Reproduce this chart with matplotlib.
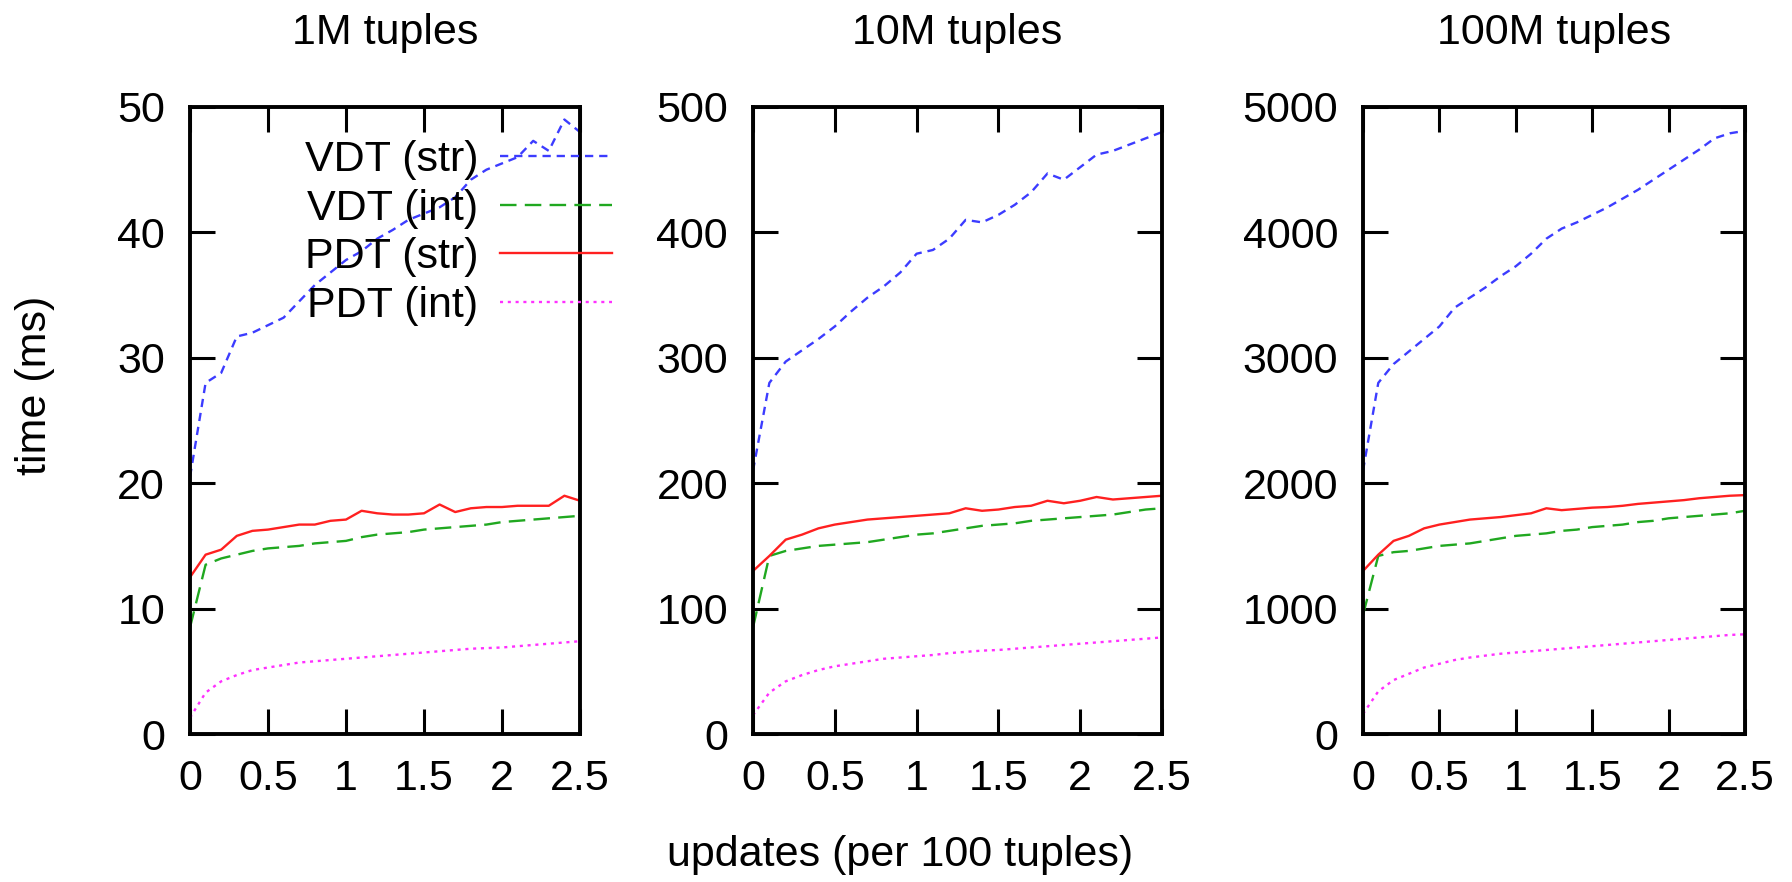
import numpy as np
import matplotlib
matplotlib.use("Agg")
import matplotlib.pyplot as plt

plt.rcParams['font.family'] = ['Liberation Sans', 'DejaVu Sans']

# x positions: updates per 100 tuples
updates = [round(0.1 * i, 1) for i in range(26)]

titles = ["1M tuples", "10M tuples", "100M tuples"]
ymax = [50, 500, 5000]
labels = ["VDT (str)", "VDT (int)", "PDT (str)", "PDT (int)"]

# 1M tuples
vdt_str_1m = [20.5, 28.0, 28.8, 31.7, 32.0, 32.6, 33.2, 34.5, 35.8, 36.8, 37.8, 38.5, 39.5,
              40.2, 41.0, 41.5, 42.0, 42.8, 44.2, 45.0, 45.5, 46.0, 47.3, 46.5, 49.0, 48.0]
vdt_int_1m = [8.5, 13.5, 14.0, 14.3, 14.6, 14.8, 14.9, 15.0, 15.2, 15.3, 15.4, 15.7, 15.9,
              16.0, 16.1, 16.3, 16.4, 16.5, 16.6, 16.7, 16.9, 17.0, 17.1, 17.2, 17.3, 17.4]
pdt_str_1m = [12.5, 14.3, 14.7, 15.8, 16.2, 16.3, 16.5, 16.7, 16.7, 17.0, 17.1, 17.8, 17.6,
              17.5, 17.5, 17.6, 18.3, 17.7, 18.0, 18.1, 18.1, 18.2, 18.2, 18.2, 19.0, 18.6]
pdt_int_1m = [1.3, 3.3, 4.2, 4.7, 5.1, 5.3, 5.5, 5.7, 5.8, 5.9, 6.0, 6.1, 6.2,
              6.3, 6.4, 6.5, 6.6, 6.7, 6.8, 6.85, 6.9, 7.0, 7.1, 7.2, 7.3, 7.4]

# 10M tuples
vdt_str_10m = [210, 280, 297, 306, 315, 325, 337, 348, 357, 368, 383, 386, 395,
               410, 408, 414, 422, 432, 447, 442, 452, 462, 465, 470, 475, 480]
vdt_int_10m = [85, 142, 146, 148, 150, 151, 152, 153, 155, 157, 159, 160, 162,
               164, 166, 167, 168, 170, 171, 172, 173, 174, 175, 177, 179, 180]
pdt_str_10m = [130, 142, 155, 159, 164, 167, 169, 171, 172, 173, 174, 175, 176,
               180, 178, 179, 181, 182, 186, 184, 186, 189, 187, 188, 189, 190]
pdt_int_10m = [15, 33, 42, 47, 51, 54, 56, 58, 60, 61, 62, 63, 64.5,
               65.5, 66.5, 67, 68, 69, 70, 71, 72, 73, 74, 75, 76, 77]

# 100M tuples
vdt_str_100m = [2100, 2800, 2950, 3050, 3150, 3250, 3400, 3480, 3560, 3650, 3730, 3830, 3950,
                4030, 4080, 4140, 4200, 4270, 4340, 4420, 4500, 4580, 4660, 4750, 4790, 4810]
vdt_int_100m = [950, 1420, 1450, 1460, 1480, 1500, 1510, 1520, 1540, 1560, 1580, 1590, 1600,
                1620, 1630, 1650, 1660, 1670, 1690, 1700, 1720, 1730, 1740, 1750, 1760, 1780]
pdt_str_100m = [1300, 1430, 1540, 1580, 1640, 1670, 1690, 1710, 1720, 1730, 1745, 1760, 1800,
                1785, 1795, 1805, 1810, 1820, 1835, 1845, 1855, 1865, 1880, 1890, 1900, 1905]
pdt_int_100m = [160, 340, 430, 480, 530, 560, 590, 610, 625, 640, 650, 660, 670,
                680, 690, 700, 710, 720, 730, 740, 750, 760, 770, 780, 790, 795]

panels = [
    [vdt_str_1m, vdt_int_1m, pdt_str_1m, pdt_int_1m],
    [vdt_str_10m, vdt_int_10m, pdt_str_10m, pdt_int_10m],
    [vdt_str_100m, vdt_int_100m, pdt_str_100m, pdt_int_100m],
]

colors = ['#3c3cff', '#20a820', '#ff2020', '#ff30ff']
dashes = [(3.5, 2.5), (7, 3.5), (), (1.3, 2.0)]

FS = 31
W, H = 1792, 882
fig = plt.figure(figsize=(W / 100, H / 100), dpi=100)

# axes boxes in pixels (left, right)
boxes = [(190, 580), (753, 1162), (1363, 1745)]
top_px, bot_px = 107, 734

for k, (l, r) in enumerate(boxes):
    ax = fig.add_axes([l / W, 1 - bot_px / H, (r - l) / W, (bot_px - top_px) / H])
    for series, c, d, lab in zip(panels[k], colors, dashes, labels):
        line, = ax.plot(updates, series, color=c, lw=1.7, label=lab)
        if d:
            line.set_dashes(d)
    ax.set_xlim(0, 2.5)
    ax.set_ylim(0, ymax[k])
    ax.set_xticks([0, 0.5, 1, 1.5, 2, 2.5])
    ax.set_xticklabels(["0", "0.5", "1", "1.5", "2", "2.5"])
    ax.set_yticks(np.linspace(0, ymax[k], 6))
    ax.tick_params(direction='in', length=18, width=2.2, labelsize=FS,
                   top=True, right=(k > 0))
    ax.tick_params(axis='x', pad=18)
    ax.tick_params(axis='y', pad=18)
    for s in ax.spines.values():
        s.set_linewidth(2.8)
    ax.text(0.5, 1 + (107 - 33) / (bot_px - top_px), titles[k], transform=ax.transAxes,
            ha='center', va='center', fontsize=FS)
    if k == 0:
        leg = ax.legend(loc='upper right', bbox_to_anchor=(612 / W, 1 - 140 / H),
                        bbox_transform=fig.transFigure, frameon=False, fontsize=FS,
                        markerfirst=False, handlelength=2.6, handletextpad=0.5,
                        borderpad=0, borderaxespad=0, labelspacing=0.2)

fig.text(35 / W, 1 - 385 / H, "time (ms)", rotation=90, ha='center', va='center', fontsize=FS)
fig.text(900 / W, 1 - 855 / H, "updates (per 100 tuples)", ha='center', va='center', fontsize=FS)

fig.savefig("out.png", dpi=100)
